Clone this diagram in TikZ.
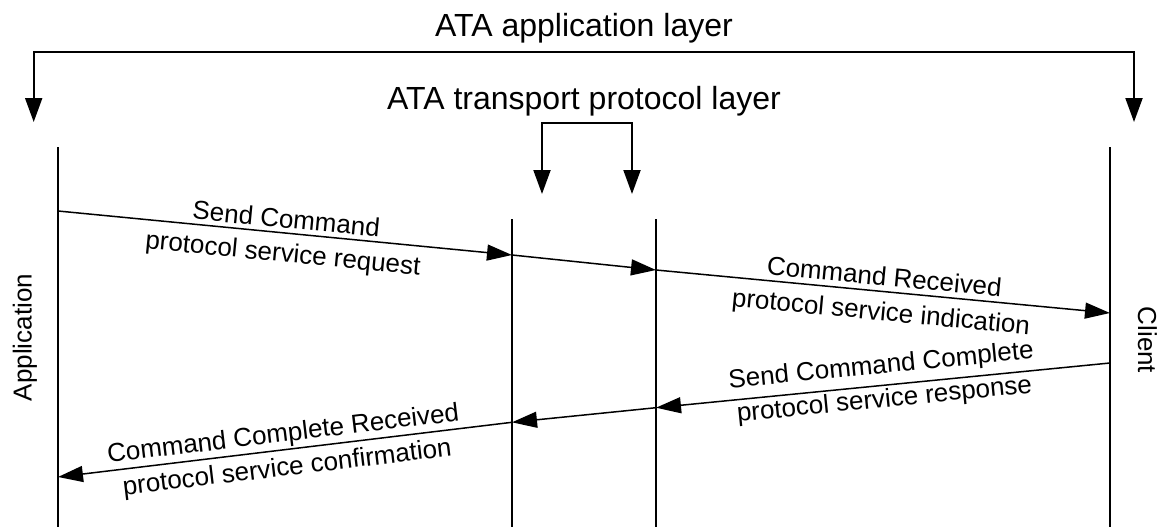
\documentclass[tikz,border=0pt]{standalone}
\usepackage{fontspec}
\setmainfont{Liberation Sans}
\usetikzlibrary{arrows.meta}
\newcommand\mylabel[4]{\raisebox{#2pt}{\fontsize{26}{#1}\selectfont\begin{tabular}[b]{@{}c@{}}#3\\#4\end{tabular}}}
\begin{document}
\begin{tikzpicture}[x=1pt,y=-1pt,
  life/.style={line width=1.5pt},
  msg/.style={line width=1.5pt,-{Triangle[length=25pt,width=16pt]}},
  brk/.style={line width=2pt,{Triangle[length=24pt,width=17pt]}-{Triangle[length=24pt,width=17pt]}},
  lab/.style={sloped,anchor=base,inner sep=0pt,font=\fontsize{26}{31}\selectfont},
  ttl/.style={anchor=base,inner sep=0pt,font=\fontsize{32}{38}\selectfont},
  nm/.style={anchor=base,inner sep=0pt,font=\fontsize{26}{31}\selectfont}]
\useasboundingbox (0,0) rectangle (1159,527);
% titles
\node[ttl] (tapp) at (584,37) {ATA application layer};
\node[ttl] (ttp) at (584,110) {ATA transport protocol layer};
% bracket end points
\coordinate (bl) at (33.7,122);
\coordinate (br) at (1134,122);
\coordinate (bt) at (0,51.7);
\coordinate (sl) at (542,194);
\coordinate (sr) at (632,194);
\coordinate (st) at (0,123);
\draw[brk] (bl) -- (bl |- bt) -- (br |- bt) -- (br);
\draw[brk] (sl) -- (sl |- st) -- (sr |- st) -- (sr);
% lifelines
\coordinate (Ltop) at (58,147);   \coordinate (Lbot) at (58,527);
\coordinate (Atop) at (512,219);  \coordinate (Abot) at (512,527);
\coordinate (Btop) at (656,219);  \coordinate (Bbot) at (656,527);
\coordinate (Rtop) at (1110,147); \coordinate (Rbot) at (1110,527);
\draw[life] (Ltop) -- (Lbot);
\draw[life] (Atop) -- (Abot);
\draw[life] (Btop) -- (Bbot);
\draw[life] (Rtop) -- (Rbot);
\node[nm,rotate=90] (napp) at (31.7,337.5) {Application};
\node[nm,rotate=-90] (ncli) at (1138,340) {Client};
% message points
\coordinate (L1) at (58,211);
\coordinate (A1) at (512,255);
\coordinate (B1) at (656,270);
\coordinate (R1) at (1110,313);
\coordinate (R2) at (1110,363);
\coordinate (B2) at (656,407.7);
\coordinate (A2) at (512,422.3);
\coordinate (L2) at (58,477);
% messages
\draw[msg] (L1) -- (A1)
  node[lab,midway] (l1) {\mylabel{34}{-29}{Send Command}{protocol service request}};
\draw[msg] (A1) -- (B1);
\draw[msg] (B1) -- (R1)
  node[lab,midway] (l3) {\mylabel{35}{-29}{Command Received}{protocol service indication}};
\draw[msg] (R2) -- (B2)
  node[lab,midway] (l4) {\mylabel{34}{-22}{Send Command Complete}{protocol service response}};
\draw[msg] (B2) -- (A2);
\draw[msg] (A2) -- (L2)
  node[lab,midway] (l6) {\mylabel{34}{-26}{Command Complete Received}{protocol service confirmation}};
\end{tikzpicture}
\end{document}
